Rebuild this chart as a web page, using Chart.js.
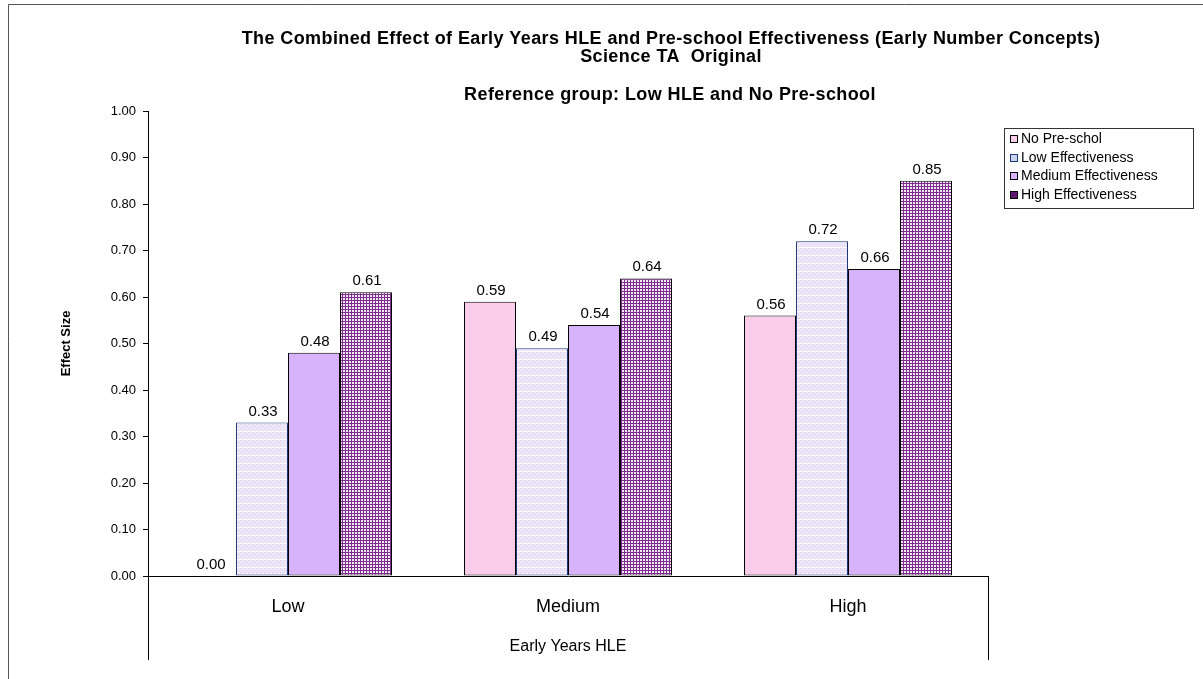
<!DOCTYPE html>
<html>
<head>
<meta charset="utf-8">
<script src="https://cdn.jsdelivr.net/npm/chart.js@4.4.0/dist/chart.umd.min.js"></script>
<style>
  html, body { margin: 0; padding: 0; background: #fff; }
  #wrap { width: 1203px; height: 679px; }
</style>
</head>
<body>
<div id="wrap"><canvas id="chart" width="1203" height="679"></canvas></div>
<script>
const categories = ['Low', 'Medium', 'High'];
const seriesNames = ['No Pre-schol', 'Low Effectiveness', 'Medium Effectiveness', 'High Effectiveness'];
const noPreschool = [0.00, 0.59, 0.56];
const lowEffectiveness = [0.33, 0.49, 0.72];
const mediumEffectiveness = [0.48, 0.54, 0.66];
const highEffectiveness = [0.61, 0.64, 0.85];
const yMin = 0, yMax = 1, yStep = 0.1;

const FONT = "'Liberation Sans', Arial, sans-serif";

// hatch fills like the old excel patterns
function lowPattern() {
    const c = document.createElement('canvas');
    c.width = 4; c.height = 8;
    const g = c.getContext('2d');
    g.fillStyle = '#EFE6F8';
    g.fillRect(0, 0, 4, 8);
    g.fillStyle = '#D9CBEE';
    g.fillRect(0, 0, 1, 1); g.fillRect(2, 2, 1, 1); g.fillRect(0, 4, 1, 1); g.fillRect(2, 6, 1, 1);
    g.fillStyle = '#ffffff';
    g.fillRect(0, 7, 4, 1);
    return g.createPattern(c, 'repeat');
}
function highPattern() {
    const c = document.createElement('canvas');
    c.width = 3; c.height = 3;
    const g = c.getContext('2d');
    g.fillStyle = '#7E2C8E';
    g.fillRect(0, 0, 3, 3);
    g.fillStyle = '#F4EAF6';
    g.fillRect(1, 1, 2, 2);
    return g.createPattern(c, 'repeat');
}

const fills = ['#FCCDEA', lowPattern(), '#D8B3FB', highPattern()];
const swatches = ['#FCCDEA', '#C9D3EE', '#D8B3FB', '#5E1A6E'];
const borders = ['#000000', '#1F3A7A', '#000000', '#000000'];
const seriesData = [noPreschool, lowEffectiveness, mediumEffectiveness, highEffectiveness];

const frame = {
    id: 'frame',
    beforeDraw(chart) {
        const ctx = chart.ctx;
        ctx.save();
        ctx.strokeStyle = '#555';
        ctx.lineWidth = 1;
        ctx.beginPath();
        ctx.moveTo(8.5, 679); ctx.lineTo(8.5, 4.5); ctx.lineTo(1203, 4.5);
        ctx.stroke();
        ctx.restore();
    },
    afterDraw(chart) {
        const ctx = chart.ctx;
        const x = chart.scales.x;
        const bottom = chart.chartArea.bottom;
        ctx.save();
        // category separators below the axis
        ctx.strokeStyle = '#000';
        ctx.lineWidth = 1;
        ctx.beginPath();
        ctx.moveTo(Math.round(x.left) + 0.5, bottom); ctx.lineTo(Math.round(x.left) + 0.5, 660);
        ctx.moveTo(Math.round(x.right) + 0.5, bottom); ctx.lineTo(Math.round(x.right) + 0.5, 660);
        ctx.stroke();

        // titles
        ctx.fillStyle = '#000';
        ctx.textAlign = 'center';
        ctx.textBaseline = 'middle';
        ctx.font = 'bold 18px ' + FONT;
        ctx.letterSpacing = '0.4px';
        ctx.fillText('The Combined Effect of Early Years HLE and Pre-school Effectiveness (Early Number Concepts)', 671, 39);
        ctx.fillText('Science TA  Original', 671, 57);
        ctx.fillText('Reference group: Low HLE and No Pre-school', 670, 95);
        ctx.letterSpacing = '0px';

        // legend
        ctx.strokeStyle = '#333';
        ctx.strokeRect(1004.5, 128.5, 189, 80);
        ctx.font = '14px ' + FONT;
        ctx.textAlign = 'left';
        chart.data.datasets.forEach((ds, i) => {
            const cy = 139 + i * 18.7;
            ctx.fillStyle = swatches[i];
            ctx.fillRect(1010, Math.round(cy - 4), 8, 8);
            ctx.strokeStyle = i === 1 ? '#1F3A7A' : '#000';
            ctx.strokeRect(1010.5, Math.round(cy - 4) + 0.5, 7, 7);
            ctx.fillStyle = '#000';
            ctx.fillText(ds.label, 1021, cy);
        });
        ctx.restore();
    }
};

const valueLabels = {
    id: 'valueLabels',
    afterDatasetsDraw(chart) {
        const ctx = chart.ctx;
        ctx.save();
        ctx.font = '15px ' + FONT;
        ctx.fillStyle = '#000';
        ctx.textAlign = 'center';
        ctx.textBaseline = 'alphabetic';
        chart.data.datasets.forEach((ds, i) => {
            chart.getDatasetMeta(i).data.forEach((bar, j) => {
                ctx.fillText(ds.data[j].toFixed(2), bar.x + 1, bar.y - 7);
            });
        });
        ctx.restore();
    }
};

const ctx = document.getElementById('chart').getContext('2d');
new Chart(ctx, {
    type: 'bar',
    data: {
        labels: categories,
        datasets: seriesNames.map((name, i) => ({
            label: name,
            data: seriesData[i],
            backgroundColor: fills[i],
            borderColor: borders[i],
            borderWidth: 1,
            borderSkipped: false,
            categoryPercentage: 0.743,
            barPercentage: 1
        }))
    },
    options: {
        responsive: false,
        animation: false,
        layout: { padding: { top: 111, right: 215, bottom: 0, left: 0 } },
        plugins: {
            legend: { display: false },
            title: { display: false },
            tooltip: { enabled: false }
        },
        scales: {
            x: {
                grid: { display: false, drawTicks: false },
                border: { display: true, color: '#000' },
                ticks: { font: { family: FONT, size: 18 }, color: '#000', padding: 20 },
                title: {
                    display: true,
                    text: 'Early Years HLE',
                    font: { family: FONT, size: 16 },
                    color: '#000',
                    padding: { bottom: 23 }
                },
                afterFit: s => { s.height = 103; }
            },
            y: {
                min: yMin,
                max: yMax,
                ticks: {
                    stepSize: yStep,
                    callback: v => v.toFixed(2),
                    font: { family: FONT, size: 13 },
                    color: '#000',
                    padding: 7
                },
                grid: { drawOnChartArea: false, drawTicks: true, tickLength: 5, color: '#000' },
                border: { display: true, color: '#000' },
                title: {
                    display: true,
                    text: 'Effect Size',
                    font: { family: FONT, size: 13, weight: 'bold' },
                    color: '#000',
                    padding: { top: 59 }
                },
                afterFit: s => { s.width = 148; }
            }
        }
    },
    plugins: [frame, valueLabels]
});
</script>
</body>
</html>
